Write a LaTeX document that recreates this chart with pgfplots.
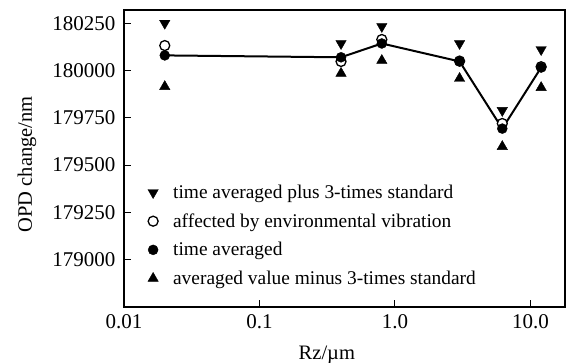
\documentclass[border=0pt]{standalone}
\usepackage{fontspec}
\setmainfont{Liberation Serif}
\usepackage{pgfplots}
\pgfplotsset{compat=1.18}
\begin{document}
\begin{tikzpicture}
\begin{axis}[
 scale only axis, width=441pt, height=297pt,
 xmode=log, xmin=0.01, xmax=18, ymin=178750, ymax=180320,
 axis line style={line width=1.6pt},
 xtick={0.01,0.1,1,10}, xticklabels={0.01,0.1,1.0,10.0},
 ytick={179000,179250,179500,179750,180000,180250},
 yticklabels={179000,179250,179500,179750,180000,180250},
 scaled y ticks=false,
 xminorticks=false, yminorticks=false,
 tick align=inside, major tick length=7pt, tick style={line width=1pt, black},
 xtick pos=bottom, ytick pos=left,
 ticklabel style={font=\fontsize{21}{24}\selectfont},
 yticklabel style={xshift=-5pt},
 xticklabel style={yshift=-4pt},
 xlabel={Rz/µm}, ylabel={OPD change/nm},
 label style={font=\fontsize{20.5}{24}\selectfont},
 xlabel style={at={(axis description cs:0.46,0)}, anchor=north, yshift=-35pt},
 ylabel style={at={(axis description cs:-0.22,0.48)}, anchor=center},
 legend style={draw=none, fill=none, inner sep=0pt, at={(axis description cs:0.052,0.418)}, anchor=north west,
   font=\fontsize{19.4}{22}\selectfont, row sep=9.6pt},
 legend cell align=left,
 legend image code/.code={\path[draw=none,fill=none] (-6pt,0pt) -- (18pt,0pt); \draw[#1] plot coordinates {(0pt,0pt)};},
]
\addplot[black, line width=2pt, forget plot] coordinates {(0.02,180080) (0.4,180070) (0.8,180143) (3.0,180048) (6.2,179693) (12,180016)};
\addplot[only marks, mark=triangle*, mark size=6pt, mark options={rotate=180, fill=black}, black] coordinates {(0.02,180250) (0.4,180143) (0.8,180233) (3.0,180143) (6.2,179789) (12,180111)};
\addlegendentry{time averaged plus 3-times standard}
\addplot[only marks, mark=*, mark size=5pt, mark options={fill=white, line width=1.3pt}, black] coordinates {(0.02,180132) (0.4,180048) (0.8,180164) (3.0,180050) (6.2,179720) (12,180020)};
\addlegendentry{affected by environmental vibration}
\addplot[only marks, mark=*, mark size=5pt, mark options={fill=black}, black] coordinates {(0.02,180080) (0.4,180070) (0.8,180143) (3.0,180048) (6.2,179693) (12,180016)};
\addlegendentry{time averaged}
\addplot[only marks, mark=triangle*, mark size=6pt, mark options={fill=black}, black] coordinates {(0.02,179915) (0.4,179985) (0.8,180053) (3.0,179958) (6.2,179598) (12,179910)};
\addlegendentry{averaged value minus 3-times standard}
\coordinate (sw) at (rel axis cs:0,0);
\coordinate (ne) at (rel axis cs:1,1);
\end{axis}
\draw[line width=1.8pt] (sw) rectangle (ne);
\pgfresetboundingbox
\path (sw) ++(-124pt,-56pt) rectangle ++(569pt,363pt);
\end{tikzpicture}
\end{document}
